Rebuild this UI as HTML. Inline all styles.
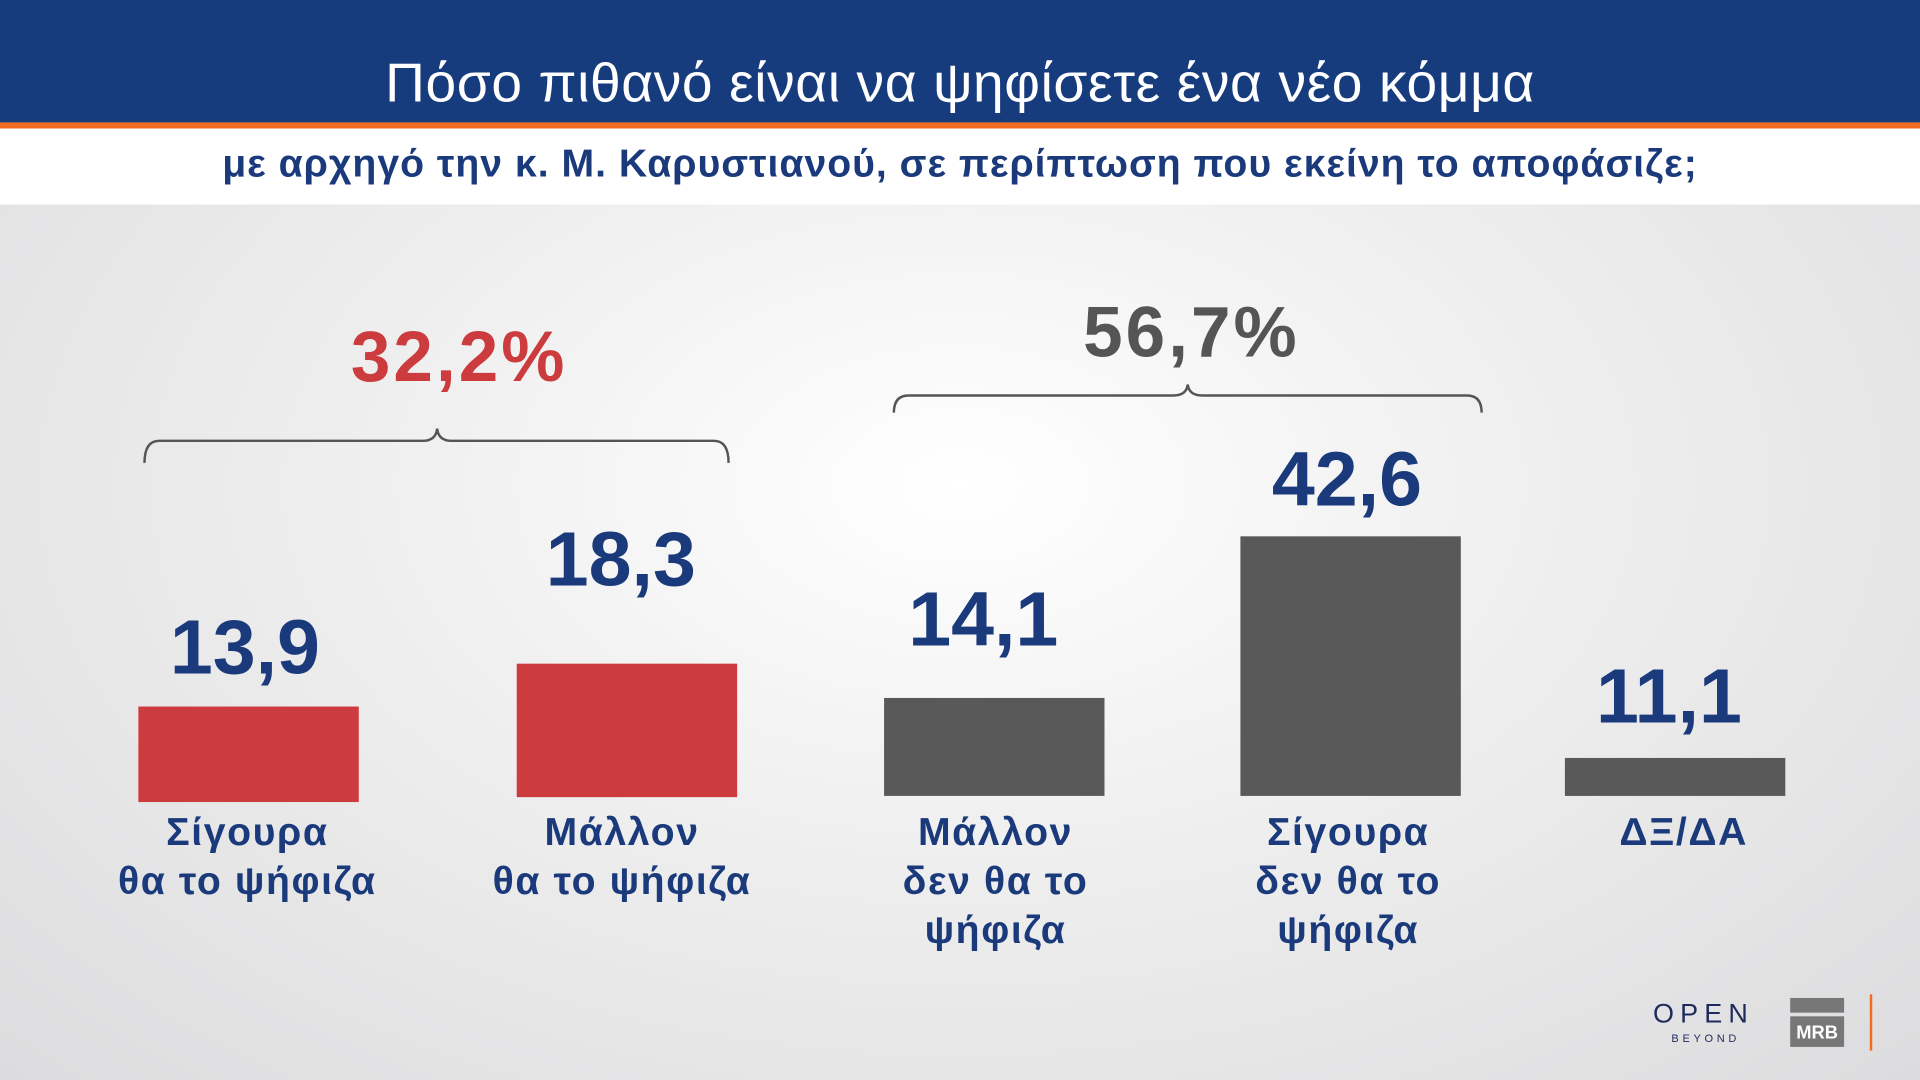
<!DOCTYPE html>
<html><head><meta charset="utf-8"><style>
html,body{margin:0;padding:0;width:1920px;height:1080px;overflow:hidden;}
#s{position:absolute;left:0;top:0;width:1568px;height:882px;transform:scale(1.22449);transform-origin:0 0;
background:radial-gradient(ellipse at 50% 45%,#ffffff 0%,#f0f0f0 40%,#dcdcde 100%);font-family:"Liberation Sans","DejaVu Sans",sans-serif;}
.a{position:absolute;}
.bar{position:absolute;width:180px;}
.v{position:absolute;width:260px;text-align:center;font-weight:bold;font-size:63px;color:#1a3a7c;letter-spacing:0px;}
.l{position:absolute;width:300px;text-align:center;font-weight:bold;font-size:32px;line-height:40px;color:#1a3a7c;letter-spacing:1.3px;}
</style></head><body><div id="s">
<div class="a" style="left:0;top:0;width:1568px;height:100px;background:#173c7d;"></div>
<div class="a" style="left:0;top:100px;width:1568px;height:5px;background:#f26b21;"></div>
<div class="a" style="left:0;top:105px;width:1568px;height:62px;background:#fff;"></div>
<div class="a" style="left:0;top:42px;width:1568px;text-align:center;color:#fff;font-size:45px;letter-spacing:0.5px;">Πόσο πιθανό είναι να ψηφίσετε ένα νέο κόμμα</div>
<div class="a" style="left:0;top:115px;width:1568px;text-align:center;color:#1a3a7c;font-size:32px;font-weight:bold;letter-spacing:0.8px;">με αρχηγό την κ. Μ. Καρυστιανού, σε περίπτωση που εκείνη το αποφάσιζε;</div>

<div class="a" style="left:225px;top:258px;width:300px;text-align:center;color:#cc3b3d;font-size:58px;font-weight:bold;letter-spacing:2.5px;">32,2%</div>
<div class="a" style="left:823px;top:238px;width:300px;text-align:center;color:#555;font-size:58px;font-weight:bold;letter-spacing:2.5px;">56,7%</div>
<svg class="a" style="left:0;top:0" width="1568" height="882"><g fill="none" stroke="#555" stroke-width="2">
<path d="M118 378 Q118 360 130 360 L345 360 Q356 360 357 350 Q358 360 369 360 L583 360 Q595 360 595 378"/>
<path d="M730 337 Q730 323 742 323 L958 323 Q969 323 970 314 Q971 323 982 323 L1198 323 Q1210 323 1210 337"/>
</g></svg>

<div class="bar" style="left:113px;top:577px;height:78px;background:#cc3b3d"></div>
<div class="bar" style="left:422px;top:542px;height:109px;background:#cc3b3d"></div>
<div class="bar" style="left:722px;top:570px;height:80px;background:#595959"></div>
<div class="bar" style="left:1013px;top:438px;height:212px;background:#595959"></div>
<div class="bar" style="left:1278px;top:619px;height:31px;background:#595959"></div>

<div class="v" style="left:70px;top:493px">13,9</div>
<div class="v" style="left:377px;top:421px">18,3</div>
<div class="v" style="left:673px;top:470px">14,1</div>
<div class="v" style="left:970px;top:356px">42,6</div>
<div class="v" style="left:1233px;top:533px">11,1</div>

<div class="l" style="left:52px;top:659px">Σίγουρα<br>θα το ψήφιζα</div>
<div class="l" style="left:358px;top:659px">Μάλλον<br>θα το ψήφιζα</div>
<div class="l" style="left:663px;top:659px">Μάλλον<br>δεν θα το<br>ψήφιζα</div>
<div class="l" style="left:951px;top:659px">Σίγουρα<br>δεν θα το<br>ψήφιζα</div>
<div class="l" style="left:1225px;top:659px">ΔΞ/ΔΑ</div>

<div class="a" style="left:1350px;top:815px;color:#1f2a5c;font-size:22px;letter-spacing:5px;">OPEN</div>
<div class="a" style="left:1365px;top:843px;color:#1f2a5c;font-size:9px;letter-spacing:3px;">BEYOND</div>
<div class="a" style="left:1462px;top:815px;width:44px;height:12px;background:#777;"></div>
<div class="a" style="left:1462px;top:830px;width:44px;height:25px;background:#777;color:#fff;font-weight:bold;font-size:15px;line-height:27px;text-align:center;">MRB</div>
<div class="a" style="left:1527px;top:812px;width:2px;height:46px;background:#f26b21;"></div>
</div></body></html>
